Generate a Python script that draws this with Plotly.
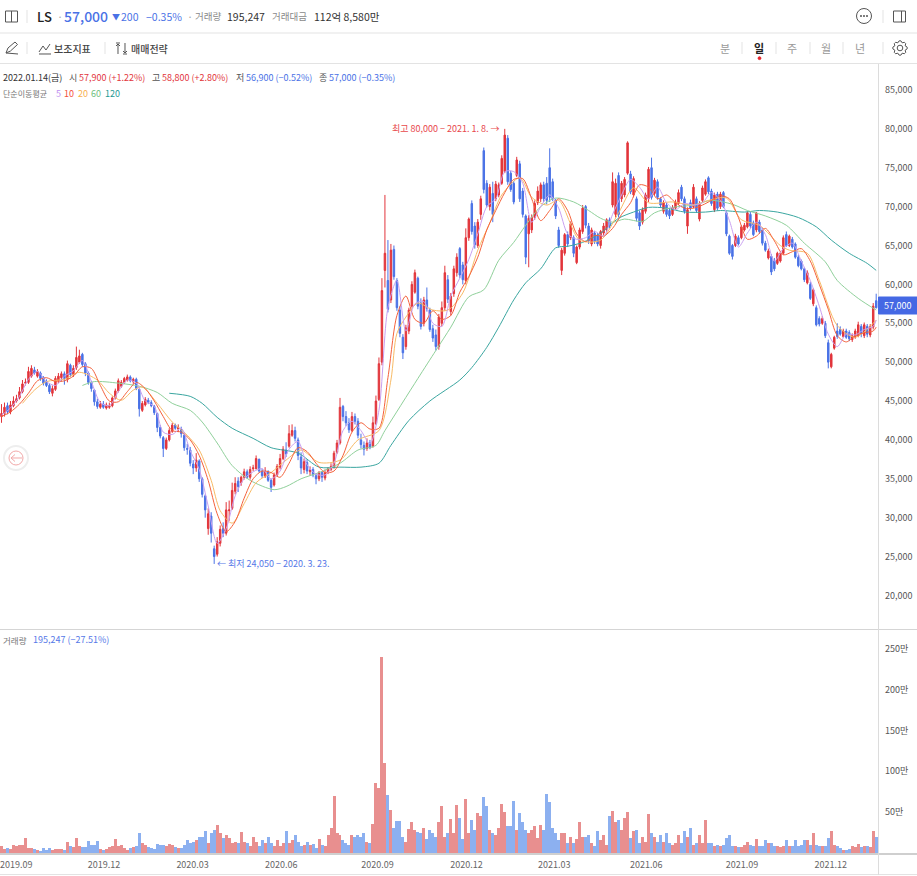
import math
import plotly.graph_objects as go

W, H = 917, 876
tick_labels_x = ["2019.12","2020.03","2020.06","2020.09","2020.12","2021.03","2021.06","2021.09","2021.12"]
tick_bars = [34.2,63.8,93.4,125.5,155.2,184.5,215.2,247.2,276.8]
first_tick_label = "2019.09"
first_tick_bar = 4.9
price_ticks = [85,80,75,70,65,60,55,50,45,40,35,30,25,20]
price_labels = ["85,000","80,000","75,000","70,000","65,000","60,000","55,000","50,000","45,000","40,000","35,000","30,000","25,000","20,000"]
vol_ticks = [250,200,150,100,50]
vol_labels = ["250만","200만","150만","100만","50만"]

open_ = [
43.0,43.4,44.4,43.6,44.4,45.0,45.4,46.2,47.3,47.4,48.2,49.0,48.2,48.6,48.0,47.5,47.0,46.0,46.5,47.6,
48.0,48.5,47.8,49.6,48.4,49.3,50.0,51.0,49.8,48.6,47.4,46.4,44.9,44.2,44.6,44.1,44.2,44.4,45.4,46.3,
46.9,47.4,47.7,48.1,47.5,47.8,46.5,43.8,44.5,45.1,44.8,44.3,43.4,41.6,40.3,38.9,40.0,41.1,41.9,41.4,
41.4,40.6,38.9,38.7,36.9,36.4,37.3,35.0,32.8,28.6,30.2,26.0,25.3,26.7,28.6,28.0,30.9,31.2,33.4,34.7,
34.5,35.2,35.9,35.2,36.3,36.3,37.5,36.0,35.3,35.9,34.8,34.2,35.5,36.5,37.6,38.7,39.2,40.6,41.2,40.0,
37.8,36.2,37.1,35.9,36.2,35.4,35.0,35.8,35.1,35.9,36.2,36.5,38.4,39.6,44.3,43.0,42.2,41.2,43.0,42.4,
40.0,39.3,38.9,39.6,39.2,42.1,45.2,50.0,61.8,60.5,58.0,64.5,60.5,56.7,53.2,52.0,54.0,57.2,59.0,60.8,
57.6,55.0,58.0,56.7,54.3,53.5,52.0,55.0,57.0,60.6,56.5,58.8,61.5,64.6,62.5,60.5,66.0,70.4,67.5,65.0,
69.0,77.2,73.0,70.0,71.7,71.0,71.5,73.0,74.5,78.8,74.3,73.0,74.0,75.5,72.0,68.8,66.5,67.0,68.6,70.5,
71.0,72.8,73.0,75.0,73.2,70.8,67.0,61.8,64.0,66.4,66.0,66.0,62.8,64.8,66.8,70.0,67.5,65.2,66.6,66.3,
65.0,66.6,67.0,68.3,70.2,69.0,74.0,71.0,71.5,74.3,74.2,71.5,71.0,69.2,68.0,69.4,71.0,75.0,71.7,73.2,
71.0,69.4,70.2,69.5,69.0,69.8,70.4,72.5,71.0,67.5,70.5,70.0,71.0,68.4,70.8,71.6,73.7,72.0,69.6,71.6,
70.0,71.8,69.2,66.2,65.0,65.0,66.0,66.0,67.0,67.4,69.0,67.9,67.0,68.0,67.0,65.3,63.4,63.6,63.0,62.7,
63.0,64.0,66.4,65.0,65.8,65.2,63.5,63.0,62.0,60.2,60.0,57.5,57.0,55.6,55.0,55.0,52.5,49.4,51.8,54.0,
54.2,53.3,54.0,53.8,52.9,53.2,53.4,54.6,53.4,54.6,53.5,54.5,57.9]
high = [
44.6,44.8,44.8,45.0,45.6,45.8,46.8,47.7,47.9,49.4,49.6,49.4,49.1,48.8,48.2,47.8,47.2,47.0,48.2,48.6,
48.8,48.8,50.2,49.8,49.6,52.0,51.6,51.2,50.0,48.8,47.6,46.5,45.3,45.0,45.0,44.8,44.8,45.6,46.6,47.9,
47.7,48.1,48.4,48.3,48.0,48.0,46.6,45.0,45.5,45.4,45.1,44.5,43.5,41.9,40.5,40.3,41.5,42.2,42.1,42.0,
41.7,41.0,39.5,39.1,37.4,38.3,37.5,35.2,33.0,31.2,30.7,26.4,27.5,29.0,29.4,32.0,32.2,34.5,35.2,35.2,
35.4,36.3,36.2,36.6,36.8,38.0,37.6,36.3,36.5,36.1,35.0,35.8,36.9,38.2,39.2,39.7,41.9,42.0,41.7,40.3,
38.4,37.6,37.5,36.6,36.5,35.7,36.0,36.0,36.2,36.5,37.0,38.6,40.0,45.4,44.5,43.7,42.8,43.6,43.4,42.8,
40.8,39.8,40.2,40.0,43.0,45.7,50.6,60.8,71.5,65.7,65.2,65.0,60.8,57.2,53.6,54.8,57.0,60.4,61.9,61.0,
58.2,58.4,59.6,57.0,54.8,54.2,56.2,57.8,62.4,61.2,58.9,62.4,64.0,64.8,62.9,67.2,68.6,70.8,68.0,68.4,
71.4,77.6,73.4,72.9,73.2,73.3,73.1,76.6,80.0,79.2,74.6,73.3,76.4,75.9,72.4,69.0,68.9,69.0,70.8,72.6,
73.1,73.2,73.8,77.5,73.6,71.0,67.4,64.7,66.6,66.8,68.1,66.3,65.0,67.3,70.2,70.2,67.9,67.3,66.9,66.6,
67.0,67.9,68.5,68.6,74.4,73.6,74.4,73.3,73.8,78.4,74.6,73.9,71.3,69.5,69.9,71.8,75.1,76.3,73.7,73.5,
71.2,70.8,70.5,69.8,70.2,70.9,72.2,72.8,71.3,69.9,70.9,72.9,71.3,70.7,72.7,73.5,73.9,72.3,71.8,71.9,
71.9,72.0,69.4,66.4,65.2,66.5,66.3,67.6,67.9,69.4,69.3,68.2,69.3,68.3,67.3,65.6,64.6,63.9,63.4,64.2,
64.2,66.3,66.8,66.4,66.1,65.4,63.8,63.2,62.2,61.8,60.3,59.5,57.3,55.9,55.9,55.3,52.9,51.2,53.4,55.0,
54.6,54.3,54.3,54.1,53.7,54.3,55.2,54.9,55.1,54.9,54.9,57.6,58.8]
low = [
42.2,43.0,43.3,43.3,44.2,44.8,45.2,46.0,47.0,47.2,48.0,48.4,48.0,47.6,47.0,46.8,45.9,45.6,46.3,47.3,
47.6,47.1,47.4,48.1,48.1,49.0,49.8,49.4,48.2,47.1,46.2,44.4,44.0,44.0,44.0,43.9,44.0,44.2,45.2,46.1,
46.7,47.2,47.5,47.4,47.2,46.4,43.0,43.6,44.3,44.6,44.2,43.2,41.0,40.2,37.8,38.7,39.8,40.9,41.3,41.0,
40.3,38.6,38.1,36.6,35.6,35.9,34.6,32.6,30.0,27.8,26.8,24.05,25.0,26.3,27.5,27.7,29.6,31.0,33.0,33.3,
34.1,34.9,35.0,34.9,36.0,36.2,35.8,35.1,35.1,34.6,33.3,34.0,35.3,36.2,37.4,37.8,39.0,40.4,39.8,37.4,
35.6,35.7,35.6,35.4,35.2,34.3,34.7,34.6,34.8,35.6,36.0,36.3,38.2,39.4,42.4,41.8,40.9,41.0,42.0,40.2,
38.9,38.0,38.6,38.8,39.0,41.9,45.0,49.6,59.6,56.4,57.6,60.6,56.6,53.2,50.4,51.6,53.6,57.0,58.8,56.8,
54.2,54.6,56.5,53.9,52.6,51.5,51.6,54.6,56.6,57.6,56.0,58.4,61.0,60.8,60.0,60.0,65.6,66.4,64.6,64.7,
68.3,71.7,69.9,69.5,68.0,70.7,71.2,72.8,74.3,72.8,71.9,70.3,73.8,70.6,68.6,62.6,62.2,66.6,68.3,70.2,
70.6,70.6,70.3,70.6,70.7,68.4,64.7,61.2,63.7,64.8,65.7,63.5,62.6,64.5,66.5,67.2,65.2,64.9,65.2,64.9,
64.6,66.3,66.7,67.2,69.9,68.6,68.6,70.6,71.2,74.1,71.6,71.2,68.1,67.0,67.7,69.1,70.6,70.9,71.4,70.9,
69.9,69.1,68.7,68.4,68.8,69.6,70.2,70.7,69.1,66.5,69.5,69.8,69.2,68.1,70.6,71.4,71.6,70.1,69.3,69.5,
69.7,69.8,66.2,63.8,63.2,64.8,65.0,65.8,66.8,67.2,67.2,66.2,66.7,66.5,65.0,64.2,63.2,61.2,61.7,62.5,
62.8,63.8,64.8,64.8,64.6,63.3,62.2,61.8,60.3,60.0,58.0,57.2,54.6,54.6,54.8,53.1,49.2,49.2,51.6,53.0,
53.4,53.1,53.0,52.7,52.6,53.0,53.2,53.2,53.1,53.2,53.2,54.2,56.9]
close = [
43.4,44.2,43.6,44.5,45.0,45.3,46.2,47.2,47.4,48.8,49.2,48.6,48.8,47.9,47.3,47.0,46.2,46.6,47.9,48.2,
48.5,47.9,49.8,48.4,49.2,50.6,50.8,49.7,48.6,47.4,46.6,44.9,44.3,44.6,44.2,44.5,44.4,45.4,46.3,47.6,
47.4,47.9,48.1,47.6,47.8,46.6,44.0,44.7,45.2,44.8,44.4,43.5,41.6,40.5,38.9,40.0,41.2,41.9,41.5,41.6,
40.8,39.0,38.8,37.0,36.4,37.4,35.0,33.0,31.0,30.5,28.0,25.0,26.9,28.5,28.0,31.0,31.0,33.5,34.4,34.0,
35.2,35.9,35.2,36.2,36.4,37.6,36.0,35.4,36.0,34.8,33.9,35.5,36.6,37.6,38.8,38.2,40.8,41.2,40.2,38.0,
36.4,37.2,36.0,36.1,35.5,35.0,35.8,35.2,35.8,36.3,36.6,38.3,39.6,44.2,43.0,42.2,41.3,43.0,42.4,40.6,
39.4,38.8,39.6,39.0,42.2,45.0,49.8,59.2,64.0,56.8,64.4,61.0,57.0,53.7,51.2,54.4,56.7,60.0,61.5,57.2,
54.6,58.0,56.9,54.2,53.1,52.0,55.8,57.0,61.5,58.1,58.5,62.0,63.5,61.2,60.6,66.0,68.4,66.8,65.1,68.0,
71.0,72.2,70.2,72.5,69.0,72.9,72.8,76.2,79.2,73.2,72.2,70.6,76.0,71.0,69.0,63.5,68.5,68.6,70.4,72.0,
72.8,71.0,70.8,71.2,71.0,68.8,65.0,64.4,66.4,65.2,67.8,64.0,64.8,67.0,69.8,67.6,65.6,67.0,65.5,65.2,
66.8,67.5,68.3,67.5,73.2,73.0,69.0,73.0,73.5,78.2,71.9,73.6,68.5,67.5,69.6,71.5,74.8,71.2,73.4,71.2,
70.2,70.5,69.0,68.8,69.9,70.6,71.8,71.0,69.4,69.6,69.8,72.5,69.5,70.3,72.4,73.2,71.9,70.4,71.5,69.8,
71.6,70.0,66.5,64.0,63.6,66.2,65.2,67.4,67.6,69.2,67.5,66.4,69.2,66.8,65.3,64.4,64.3,61.6,62.0,64.0,
64.0,66.0,65.0,66.2,64.8,63.5,62.4,62.0,60.6,61.5,58.2,59.3,54.8,54.9,55.6,53.4,50.0,51.0,53.2,53.3,
53.6,54.0,53.2,53.0,53.4,54.0,54.8,53.6,54.8,53.6,54.6,57.2,57.0]
volume = [
9,5,6,5,10,8,10,10,18,6,6,5,4,3,6,4,6,4,5,5,
5,4,14,8,7,18,8,7,7,15,10,10,15,5,4,5,7,8,17,9,
10,6,4,6,7,8,24,12,10,7,6,5,11,10,10,8,11,10,7,6,
6,10,16,12,14,16,20,19,27,12,24,28,34,24,18,22,18,12,14,12,
26,13,12,8,20,13,8,16,12,20,12,8,16,8,12,27,12,16,22,14,
8,10,14,10,11,6,17,10,9,22,30,70,24,22,16,12,10,22,20,22,
20,24,14,12,35,86,80,240,110,71,53,30,39,39,20,14,29,38,28,26,
24,30,17,28,24,20,38,58,20,24,42,24,59,43,17,66,24,41,28,49,
45,68,58,28,24,22,30,60,50,33,33,64,28,49,38,28,24,28,33,18,
34,28,72,63,30,24,16,24,24,12,20,12,17,38,20,20,22,12,8,27,
16,22,10,45,52,38,40,28,43,50,18,27,28,12,20,14,48,24,20,14,
22,14,24,12,10,12,22,12,27,20,30,10,12,22,12,40,12,12,9,10,
8,10,18,22,8,8,7,7,10,13,10,8,17,8,8,16,12,12,8,8,
7,8,16,8,8,16,8,10,16,16,10,24,10,8,9,8,18,27,10,9,
6,4,4,5,8,7,11,7,8,9,7,27,20]

ma5 = [43.2,44.1,45.6,47.8,48.8,47.5,47.0,48.2,48.9,50.2,
47.5,44.8,44.4,46.2,47.7,47.3,45.0,44.3,41.0,40.7,
41.5,38.6,36.2,31.5,26.7,28.6,32.8,35.0,35.9,36.3,
35.0,36.0,38.8,39.8,36.8,35.6,35.5,37.0,41.2,42.4,
41.2,39.5,43.8,57.0,60.5,54.0,57.5,57.8,55.0,54.6,
58.5,60.8,63.2,66.5,70.0,71.0,74.5,74.5,73.0,68.0,
70.0,71.5,69.8,66.5,65.8,66.0,66.8,66.2,69.0,71.5,
73.5,72.5,71.0,72.5,70.5,69.6,70.4,70.2,70.5,71.8,
70.8,68.2,64.8,66.6,68.0,66.4,63.0,64.6,65.3,63.0,
60.5,57.2,53.6,52.0,53.6,53.5,54.2,54.6,55.4]
ma10 = [43.0,43.6,44.6,46.0,47.6,48.0,47.5,47.6,48.2,49.4,
49.2,47.0,45.0,44.9,46.2,47.4,46.6,45.0,43.0,41.2,
41.0,40.0,38.0,34.8,30.5,28.2,29.5,32.5,35.0,36.0,
35.8,35.2,37.0,39.0,38.5,37.0,35.8,36.0,38.0,41.0,
42.2,41.4,41.5,48.0,56.0,58.5,55.5,55.0,56.6,55.5,
56.0,59.0,61.0,63.5,67.0,69.5,71.8,73.5,73.6,71.0,
68.2,69.5,71.0,69.5,66.5,65.5,66.3,66.2,67.2,69.0,
70.5,72.8,72.5,71.0,71.5,70.5,69.8,69.8,70.2,70.8,
71.4,71.0,68.6,65.8,66.2,67.2,65.6,63.8,64.2,64.6,
63.0,60.0,56.8,53.4,52.6,53.4,53.8,54.0,54.5]
ma_short_bars = list(range(0, 292, 3)) + [292]

ma20_bars = [7,11,15,21,26,32,36,40,44,47,52,57,62,66,70,73,77,81,85,90,95,100,106,113,119,126,130,132,135,139,144,149,154,159,163,167,173,177,182,186,193,200,206,211,216,224,231,236,242,247,253,260,263,269,273,279,285,292]
ma20 = [44.7,46.4,47.5,47.8,48.7,47.7,46.0,45.1,46.4,46.8,44.7,42.3,40.6,38.7,34.8,30.9,29.3,31.8,34.5,35.8,37.4,38.7,37.1,37.4,40.0,41.2,47.7,53.7,55.8,57.6,56.7,56.7,58.9,64.4,67.9,71.5,73.7,71.2,70.2,70.8,65.7,65.7,69.2,72.4,70.5,70.6,70.2,70.8,71.1,68.3,67.6,65.0,64.4,64.0,60.5,54.7,53.2,55.4]
ma60_bars = [27,31,39,46,52,57,63,67,72,77,83,91,95,100,106,113,119,125,128,139,145,150,156,161,166,171,175,180,185,191,196,200,204,208,214,218,224,231,237,244,249,255,262,268,275,279,286,292]
ma60 = [47.0,47.5,47.3,46.9,46.1,44.7,43.8,42.3,39.6,36.7,34.8,33.6,34.0,35.0,35.8,37.0,38.7,39.3,41.2,47.9,51.5,54.5,58.4,59.3,63.1,65.4,67.6,70.0,71.1,70.6,69.5,68.5,68.0,68.4,68.1,69.2,69.9,70.2,70.8,70.3,69.5,68.8,67.6,65.3,62.9,60.5,58.2,56.7]
ma120_bars = [56,63,67,72,77,84,90,99,106,113,120,126,130,136,143,153,157,162,166,171,175,180,185,189,194,200,206,211,216,222,228,235,240,248,253,259,266,272,277,283,289,292]
ma120 = [46.0,45.6,44.7,42.9,41.5,40.2,39.0,38.3,36.5,36.5,36.5,37.0,39.3,42.5,45.0,47.7,49.3,51.9,54.5,58.0,60.2,62.0,64.7,64.9,65.4,66.6,68.5,69.3,69.9,69.8,69.3,69.3,69.5,69.3,69.5,69.3,68.6,67.4,65.7,64.0,62.7,61.8]

bars = list(range(len(close)))
PAD_R = 878
RED, BLUE = "#e2353b", "#4a72e6"
GREY, DARK = "#8a8a8a", "#333333"
FONT = "Noto Sans CJK KR"

def px(x): return x / W
def py(y): return 1 - y / H

fig = go.Figure()
fig.add_trace(go.Candlestick(
    x=bars, open=open_, high=high, low=low, close=close, whiskerwidth=0, xaxis="x", yaxis="y",
    increasing=dict(line=dict(color=RED, width=1), fillcolor=RED),
    decreasing=dict(line=dict(color=BLUE, width=1), fillcolor=BLUE), showlegend=False))
for b, v, c, name in [(ma120_bars, ma120, "#3aa6a0", "120"), (ma60_bars, ma60, "#8fd09a", "60"),
                      (ma20_bars, ma20, "#f8bb66", "20"),
                      (ma_short_bars, ma10, "#f4613b", "10"),
                      (ma_short_bars, ma5, "#c9a0f0", "5")]:
    fig.add_trace(go.Scatter(x=b, y=v, mode="lines", line=dict(color=c, width=1, shape="spline", smoothing=0.8), name=name,
                             showlegend=False, xaxis="x", yaxis="y"))
fig.add_trace(go.Bar(x=bars, y=volume, width=1, xaxis="x", yaxis="y2", showlegend=False,
                     marker=dict(color=["#e88f8f" if c >= o else "#8cb0f0" for o, c in zip(open_, close)],
                                 line=dict(width=0))))

def text(x, y, s, color=DARK, size=10, anchor="left", weight=None):
    f = dict(family=FONT, size=size, color=color)
    if weight:
        f["weight"] = weight
    fig.add_annotation(x=px(x), y=py(y), xref="paper", yref="paper", text=s, showarrow=False,
                       xanchor=anchor, yanchor="middle", font=f, borderpad=0, borderwidth=0)

shapes = []
def hline(y, x0=0, x1=W, c="#e3e3e3", w=1):
    shapes.append(dict(type="line", xref="paper", yref="paper", x0=px(x0), x1=px(x1), y0=py(y), y1=py(y), line=dict(color=c, width=w)))
def vline(x, y0, y1, c="#e3e3e3", w=1):
    shapes.append(dict(type="line", xref="paper", yref="paper", x0=px(x), x1=px(x), y0=py(y0), y1=py(y1), line=dict(color=c, width=w)))
def rect(x0, y0, x1, y1, line="#555555", fill=None, w=1):
    d = dict(type="rect", xref="paper", yref="paper", x0=px(x0), x1=px(x1), y0=py(y0), y1=py(y1), line=dict(color=line, width=w))
    if fill:
        d["fillcolor"] = fill
    shapes.append(d)
def circle(cx, cy, r, line="#555555", fill=None, w=1):
    d = dict(type="circle", xref="paper", yref="paper", x0=px(cx - r), x1=px(cx + r), y0=py(cy - r), y1=py(cy + r), line=dict(color=line, width=w))
    if fill:
        d["fillcolor"] = fill
    shapes.append(d)
def path(pts, c="#555555", w=1):
    s = "M " + " L ".join(f"{px(a):.5f},{py(b):.5f}" for a, b in pts)
    shapes.append(dict(type="path", xref="paper", yref="paper", path=s, line=dict(color=c, width=w)))

hline(33); hline(63.5); hline(629.5, c="#d5d5d5"); hline(854, c="#cfcfcf", w=2); hline(874.5)
vline(878.5, 64, 875, c="#dcdcdc")
for x in (27, 883):
    vline(x, 10, 23)
for x in (27, 105, 742, 776, 810, 843, 883):
    vline(x, 42, 54)
# panel icons
rect(5.5, 11, 17.5, 22); vline(11.5, 11, 22, c="#555555")
rect(893.5, 11, 905.5, 22); vline(901.5, 11, 22, c="#555555")
# more icon
circle(864, 16, 7.5)
for dx in (-3, 0, 3):
    circle(864 + dx, 16, 0.6, fill="#555555")
# pencil
path([(6, 53), (8, 48), (15, 42), (17.5, 44.5), (10.5, 51), (6, 53), (18, 54)])
# indicator icon
path([(39, 52), (43, 46), (46, 50), (50, 44)]); path([(39, 54), (51, 54)], c="#555555")
# strategy icon
path([(118, 44), (118, 54)]); path([(116, 43), (120, 43)]); path([(116, 46), (118, 44), (120, 46)])
path([(125, 43), (125, 53)]); path([(123, 54), (127, 54)]); path([(123, 51), (125, 53), (127, 51)])
# gear
circle(900, 48, 2.8)
gear = []
for k in range(24):
    r = 7.2 if k % 3 in (0, 1) else 5.6
    a = 2 * math.pi * (k - 0.5) / 24
    gear.append((900 + r * math.cos(a), 48 + r * math.sin(a)))
path(gear + gear[:1])
circle(759.5, 58.2, 1.4, line="#e8232a", fill="#e8232a")
# current price tag
rect(878.5, 297, 917, 314, line="#4568e4", fill="#4568e4")
# return button
circle(16, 458, 12, line="#eeeeee", fill="#ffffff", w=2)
circle(16, 458, 7, line="#f2a9a9")
path([(11, 458), (22, 458)], c="#f2a9a9"); path([(15, 454.5), (11, 458), (15, 461.5)], c="#f2a9a9")

text(37, 16, "LS", color="#222222", size=13, weight=500)
text(57, 16, "·", color="#aaaaaa", size=11)
text(64, 16, "57,000", color=BLUE, size=14, weight=500)
text(112, 16, "▼", color=BLUE, size=8)
text(121, 16, "200", color=BLUE, size=10.5)
text(146, 16, "−0.35%", color=BLUE, size=10.5)
text(187, 16, "·", color="#aaaaaa", size=11)
text(195, 16, "거래량", color=GREY, size=9.5)
text(227, 16, "195,247", size=10.5)
text(272, 16, "거래대금", color=GREY, size=9.5)
text(314, 16, "112억 8,580만", size=10.5)
text(54, 48, "보조지표", color="#444444", size=10, weight=500)
text(131, 48, "매매전략", color="#444444", size=10, weight=500)
for x, s, c, wt in [(725, "분", "#999999", None), (759, "일", "#222222", 700), (792, "주", "#999999", None),
                    (826, "월", "#999999", None), (860, "년", "#999999", None)]:
    text(x, 48, s, color=c, size=11, anchor="center", weight=wt)
text(3, 77.5, "2022.01.14(금)", size=9)
text(69, 77.5, "시", color="#555555", size=9)
text(79, 77.5, "57,900 (+1.22%)", color=RED, size=9)
text(152, 77.5, "고", color="#555555", size=9)
text(162, 77.5, "58,800 (+2.80%)", color=RED, size=9)
text(236, 77.5, "저", color="#555555", size=9)
text(246, 77.5, "56,900 (−0.52%)", color=BLUE, size=9)
text(319, 77.5, "종", color="#555555", size=9)
text(329, 77.5, "57,000 (−0.35%)", color=BLUE, size=9)
text(3, 93.5, "단순이동평균", color="#777777", size=8)
for x, s, c in [(56, "5", "#c08ff0"), (64, "10", "#f4513b"), (78, "20", "#f8b04e"), (91, "60", "#70c080"), (105, "120", "#1f9a94")]:
    text(x, 93.5, s, color=c, size=9)
text(392, 128, "최고 80,000 − 2021. 1. 8. →", color="#e8484c", size=9)
text(217, 563, "← 최저 24,050 − 2020. 3. 23.", color="#5578e8", size=9)
text(3, 639.5, "거래량", color="#777777", size=8.5)
text(33, 639.5, "195,247 (−27.51%)", color="#5578e8", size=9)
text(897.5, 305.5, "57,000", color="#ffffff", size=9, anchor="center")
fig.add_annotation(x=first_tick_bar, xref="x", y=py(864.5), yref="paper", text=first_tick_label, showarrow=False,
                   xanchor="center", yanchor="middle", font=dict(family=FONT, size=9, color="#666666"))

fig.update_layout(
    width=W, height=H, margin=dict(l=0, r=0, t=0, b=0), autosize=False,
    paper_bgcolor="white", plot_bgcolor="white", showlegend=False, bargap=0,
    font=dict(family=FONT), shapes=shapes, hovermode=False,
    xaxis=dict(domain=[0, PAD_R / W], range=[-0.5, 292.6], anchor="y2", showgrid=False, zeroline=False,
               rangeslider=dict(visible=False), tickmode="array", tickvals=tick_bars, ticktext=tick_labels_x,
               ticklabelstandoff=5,
               tickfont=dict(size=9, color="#666666", family=FONT), ticks="", showline=False, automargin=False),
    yaxis=dict(domain=[py(629.5), py(64)], range=[15.62, 88.34], side="right", anchor="x", showgrid=False,
               zeroline=False, tickmode="array", tickvals=price_ticks, ticktext=price_labels, ticks="", ticklabelstandoff=6,
               tickfont=dict(size=9, color="#555555", family=FONT), automargin=False),
    yaxis2=dict(domain=[py(853), py(630)], range=[0, 273], side="right", anchor="x", showgrid=False,
                zeroline=False, tickmode="array", tickvals=vol_ticks, ticktext=vol_labels, ticks="", ticklabelstandoff=6,
                tickfont=dict(size=9, color="#555555", family=FONT), automargin=False),
)
fig.write_html("out.html", config={"displayModeBar": False}, post_script="document.body.style.margin='0';")
